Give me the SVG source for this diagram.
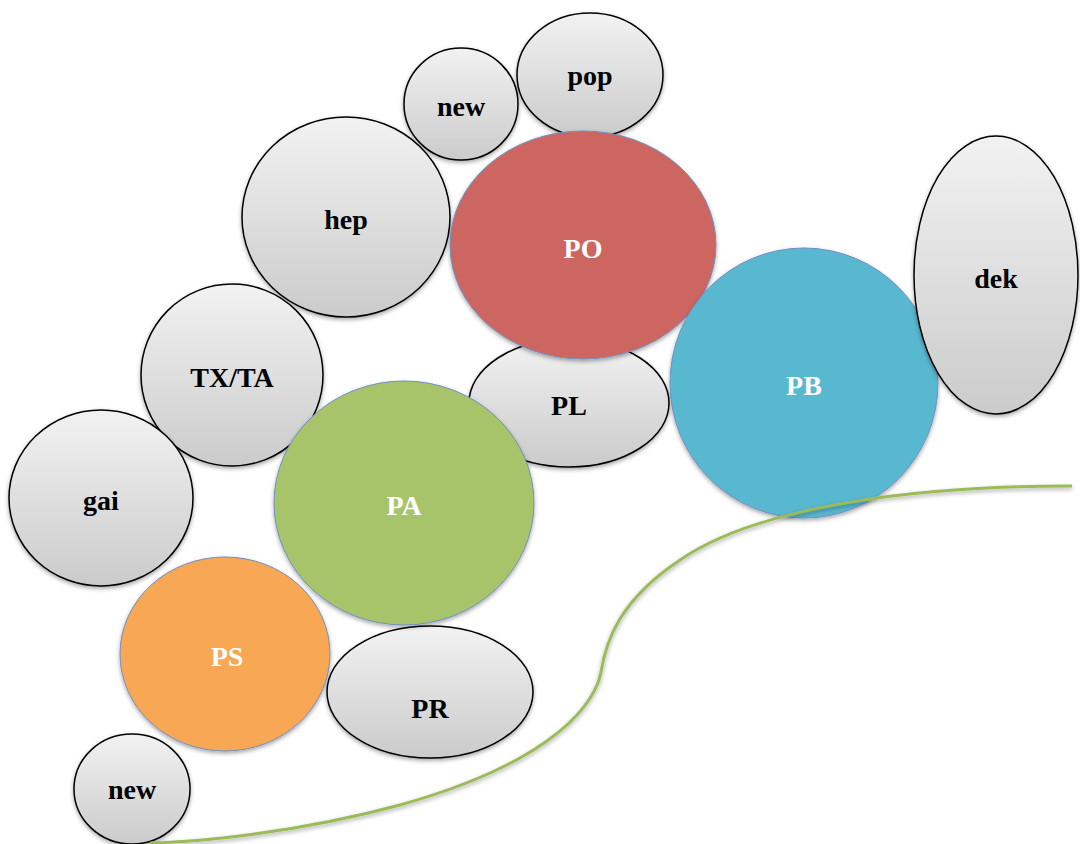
<svg xmlns="http://www.w3.org/2000/svg" width="1080" height="844" viewBox="0 0 1080 844">
<defs>
<linearGradient id="grey" x1="0" y1="0" x2="0" y2="1">
<stop offset="0" stop-color="#f2f2f2"/>
<stop offset="1" stop-color="#cbcbcb"/>
</linearGradient>
<filter id="sh" x="-10%" y="-10%" width="120%" height="125%">
<feDropShadow dx="0" dy="2" stdDeviation="2" flood-color="#000" flood-opacity="0.35"/>
</filter>
</defs>
<style>
.g{fill:url(#grey);stroke:#000;stroke-width:1.5;filter:url(#sh)}
.c{stroke:#6f8fc4;stroke-width:1;filter:url(#sh)}
text{font-family:"Liberation Serif","Times New Roman",serif;font-weight:bold;font-size:28px;text-anchor:middle;dominant-baseline:central}
.w{fill:#fff}
.b{fill:#000}
</style>
<rect width="1080" height="844" fill="#fff"/>
<g id="node-new-top"><ellipse class="g" cx="461" cy="104" rx="57" ry="56"/><text class="b" x="461" y="106">new</text></g>
<g id="node-pop"><ellipse class="g" cx="590" cy="75" rx="73" ry="62"/><text class="b" x="590" y="75">pop</text></g>
<g id="node-hep"><ellipse class="g" cx="346" cy="217" rx="104" ry="100"/><text class="b" x="346" y="219">hep</text></g>
<g id="node-PL"><ellipse class="g" cx="569" cy="403" rx="100" ry="64"/><text class="b" x="569" y="405">PL</text></g>
<g id="node-PO"><ellipse class="c" fill="#cd6660" cx="583" cy="245" rx="133" ry="114"/><text class="w" x="583" y="248">PO</text></g>
<g id="node-PB"><ellipse class="c" fill="#59b8d0" cx="804" cy="383" rx="134" ry="135"/><text class="w" x="804" y="385">PB</text></g>
<g id="node-dek"><ellipse class="g" cx="996" cy="275" rx="82" ry="139"/><text class="b" x="996" y="278">dek</text></g>
<g id="node-TXTA"><ellipse class="g" cx="232" cy="375" rx="91" ry="91"/><text class="b" x="232" y="377">TX/TA</text></g>
<g id="node-gai"><ellipse class="g" cx="101" cy="498" rx="92" ry="88"/><text class="b" x="101" y="500">gai</text></g>
<g id="node-PR"><ellipse class="g" cx="430" cy="692" rx="103" ry="66"/><text class="b" x="430" y="708">PR</text></g>
<g id="node-PA"><ellipse class="c" fill="#a8c46a" cx="404" cy="503" rx="130" ry="122"/><text class="w" x="404" y="505">PA</text></g>
<g id="node-new-bottom"><ellipse class="g" cx="132" cy="789" rx="58" ry="55"/><text class="b" x="132" y="789">new</text></g>
<g id="node-PS"><ellipse class="c" fill="#f8a754" cx="225" cy="654" rx="105" ry="97"/><text class="w" x="227" y="656">PS</text></g>
<g id="connectors">
<path d="M1072,486 C920,486 760,505 680,560 C620,600 606,640 601,672 C596,700 560,760 400,805 C300,832 200,842 150,843" fill="none" stroke="#9bbb59" stroke-width="3" filter="url(#sh)"/>
</g>
</svg>
